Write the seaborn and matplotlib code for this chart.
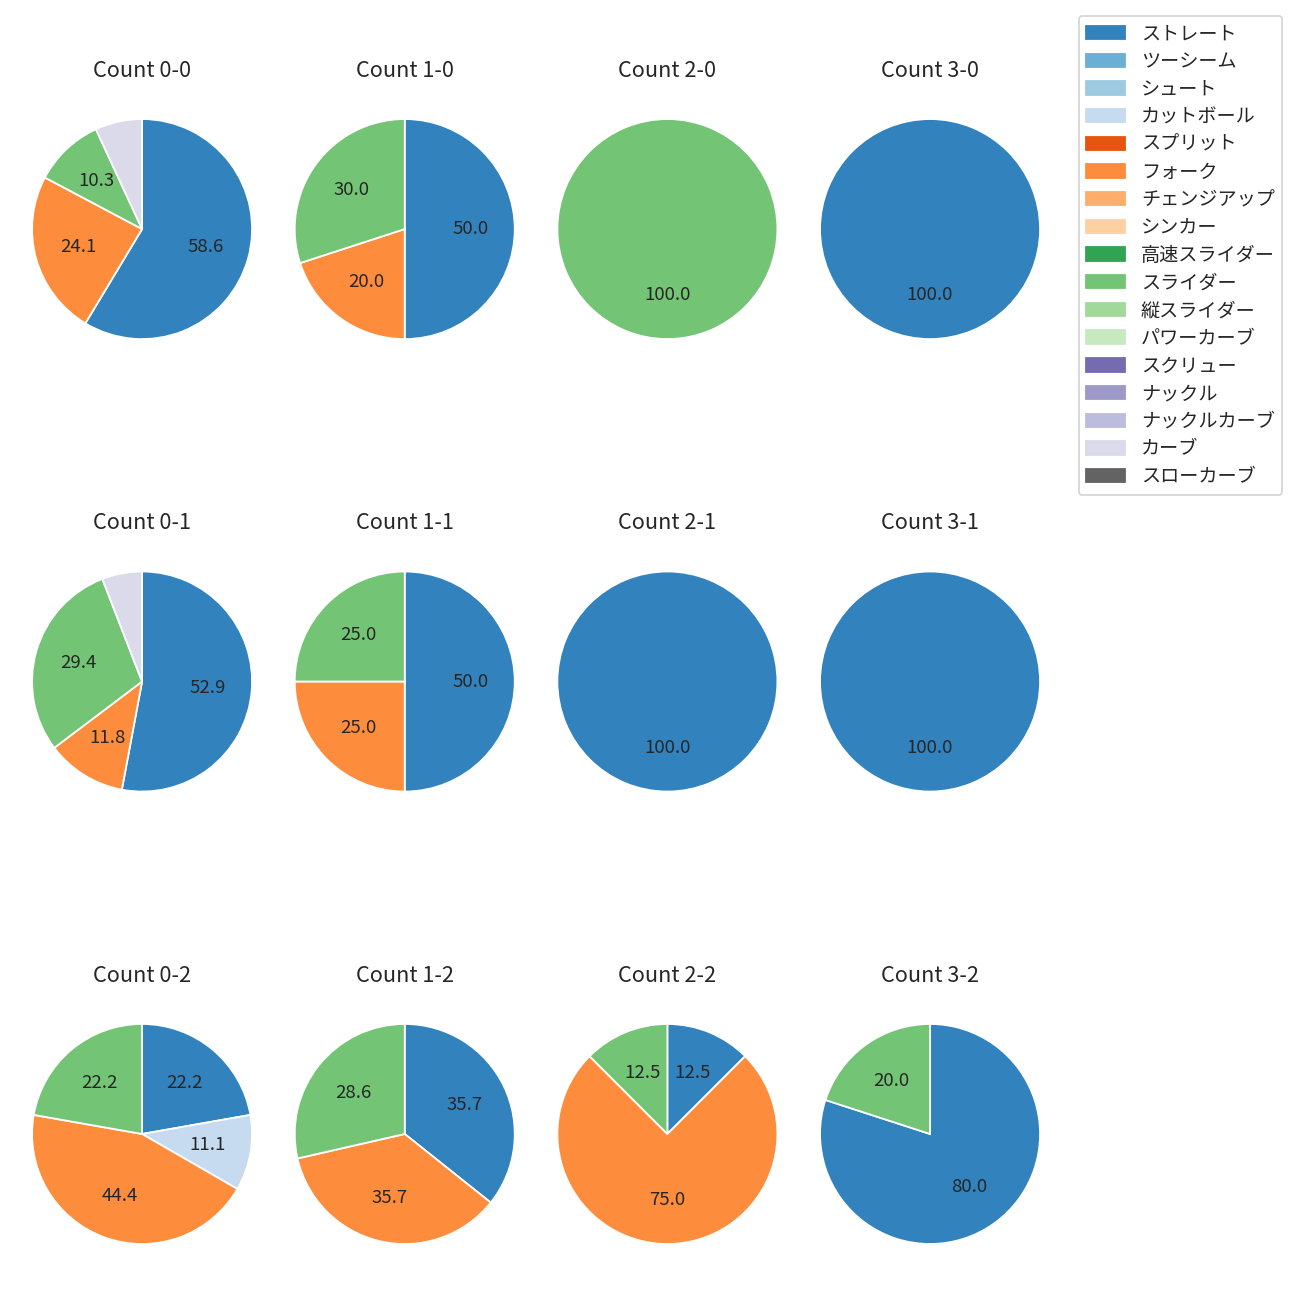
import matplotlib
matplotlib.use("Agg")
import matplotlib.pyplot as plt
import matplotlib.patches as mpatches
import seaborn as sns

sns.set_theme(style="white")
plt.rcParams['font.family'] = ['Noto Sans CJK JP', 'DejaVu Sans']

# pitch types in legend order, with their tab20c-style colours
pitch_types = [
    'ストレート', 'ツーシーム', 'シュート', 'カットボール',
    'スプリット', 'フォーク', 'チェンジアップ', 'シンカー',
    '高速スライダー', 'スライダー', '縦スライダー', 'パワーカーブ',
    'スクリュー', 'ナックル', 'ナックルカーブ', 'カーブ', 'スローカーブ',
]
pitch_colors = sns.color_palette('tab20c', 20).as_hex()[:16] + ['#636363']

# counts shown in the grid (row = strikes, column = balls)
count_labels = [
    '0-0', '1-0', '2-0', '3-0',
    '0-1', '1-1', '2-1', '3-1',
    '0-2', '1-2', '2-2', '3-2',
]

# pitches thrown per count, keyed by pitch type (others are zero)
count_00 = {'ストレート': 17, 'フォーク': 7, 'スライダー': 3, 'カーブ': 2}
count_10 = {'ストレート': 5, 'フォーク': 2, 'スライダー': 3}
count_20 = {'スライダー': 1}
count_30 = {'ストレート': 1}
count_01 = {'ストレート': 9, 'フォーク': 2, 'スライダー': 5, 'カーブ': 1}
count_11 = {'ストレート': 2, 'フォーク': 1, 'スライダー': 1}
count_21 = {'ストレート': 1}
count_31 = {'ストレート': 1}
count_02 = {'ストレート': 2, 'カットボール': 1, 'フォーク': 4, 'スライダー': 2}
count_12 = {'ストレート': 5, 'フォーク': 5, 'スライダー': 4}
count_22 = {'ストレート': 1, 'フォーク': 6, 'スライダー': 1}
count_32 = {'ストレート': 4, 'スライダー': 1}

count_data = [
    count_00, count_10, count_20, count_30,
    count_01, count_11, count_21, count_31,
    count_02, count_12, count_22, count_32,
]


def pct_label(pct):
    return f'{pct:.1f}' if pct >= 10 else ''


fig, axes = plt.subplots(3, 4, figsize=(10, 10))
fig.subplots_adjust(left=0.0035, right=0.8212, top=0.9392, bottom=0.0123,
                    wspace=-0.045, hspace=0.508)

for ax, label, data in zip(axes.flat, count_labels, count_data):
    names = [p for p in pitch_types if data.get(p, 0) > 0]
    sizes = [data[p] for p in names]
    colors = [pitch_colors[pitch_types.index(p)] for p in names]
    ax.pie(sizes, colors=colors, startangle=90, counterclock=False,
           autopct=pct_label, textprops={'fontsize': 10.3})
    ax.set_title(f'Count {label}', fontsize=12, pad=8.2)

handles = [mpatches.Patch(color=c, label=p) for p, c in zip(pitch_types, pitch_colors)]
fig.legend(handles=handles, loc='upper right', bbox_to_anchor=(0.9938, 0.9954),
           fontsize=10.6, labelspacing=0.35, handletextpad=0.85)

plt.savefig('out.png', dpi=130)
